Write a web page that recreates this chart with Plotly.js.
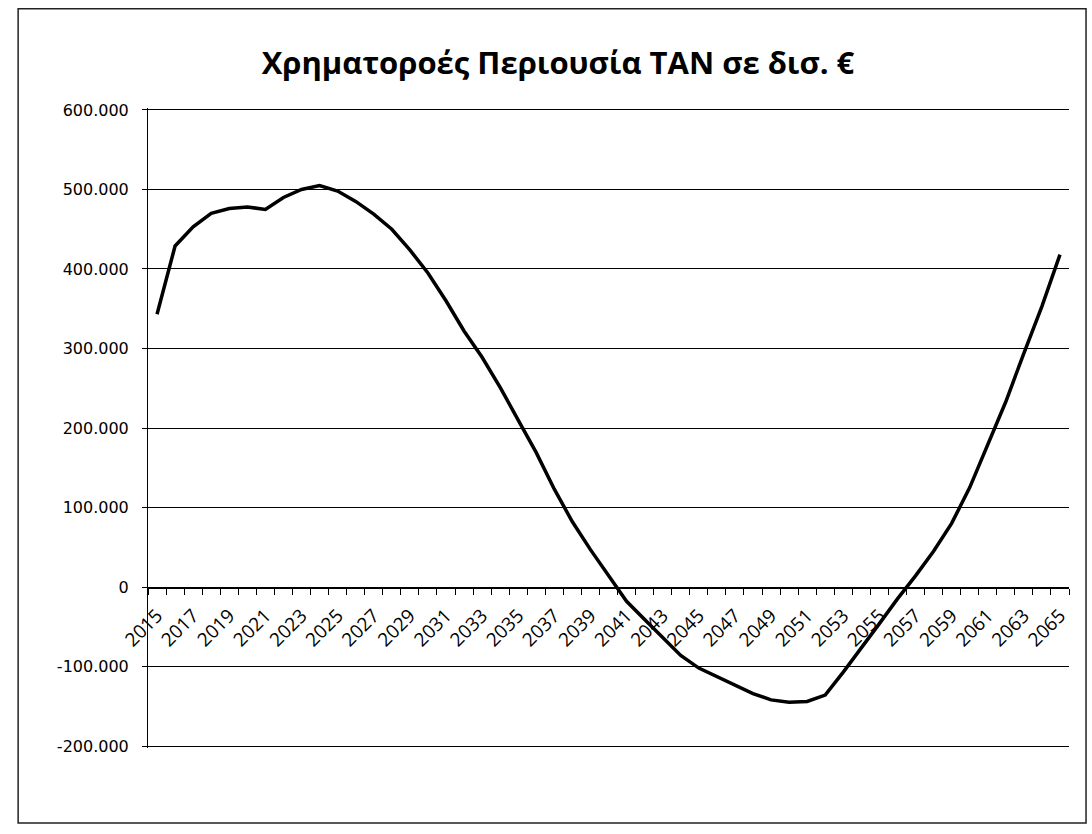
<!DOCTYPE html>
<html>
<head>
<meta charset="utf-8">
<script src="https://cdn.plot.ly/plotly-3.0.1.min.js"></script>
<style>
  body { margin: 0; background: #fff; }
  #chart { width: 1092px; height: 834px; }
</style>
</head>
<body>
<div id="chart"></div>
<script>
var years = [2015, 2016, 2017, 2018, 2019, 2020, 2021, 2022, 2023, 2024,
  2025, 2026, 2027, 2028, 2029, 2030, 2031, 2032, 2033, 2034,
  2035, 2036, 2037, 2038, 2039, 2040, 2041, 2042, 2043, 2044,
  2045, 2046, 2047, 2048, 2049, 2050, 2051, 2052, 2053, 2054,
  2055, 2056, 2057, 2058, 2059, 2060, 2061, 2062, 2063, 2064, 2065];

// assets flow
var assets = [343000, 429000, 453000, 470000, 476000, 478000, 475000, 490000, 500000, 505000,
  498000, 485000, 469000, 450000, 424000, 395000, 360000, 322000, 289000, 251000,
  210000, 169000, 123000, 82000, 47000, 15000, -18000, -41000, -63000, -86000,
  -102000, -113000, -124000, -134000, -142000, -145000, -144000, -136000, -107000, -77000,
  -46000, -15000, 14000, 45000, 80000, 125000, 180000, 233000, 294000, 353000, 418000];

var yTicks = [-200000, -100000, 0, 100000, 200000, 300000, 400000, 500000, 600000];
var yLabels = ['-200.000', '-100.000', '0', '100.000', '200.000', '300.000', '400.000', '500.000', '600.000'];

var trace = {
  x: years,
  y: assets,
  type: 'scatter',
  mode: 'lines',
  line: { color: 'black', width: 3.5 },
  hovertemplate: '%{x}: %{y:,}<extra></extra>'
};

var layout = {
  width: 1092,
  height: 834,
  separators: ',.',
  showlegend: false,
  paper_bgcolor: 'white',
  plot_bgcolor: 'white',
  margin: { l: 148, r: 23, t: 108, b: 86 },
  title: {
    text: '<b>Χρηματοροές Περιουσία ΤΑΝ σε δισ. €</b>',
    font: { family: 'Open Sans', size: 31, color: 'black' },
    xref: 'container',
    x: 0.511,
    xanchor: 'center',
    yref: 'container',
    y: 0.924,
    yanchor: 'middle'
  },
  xaxis: {
    range: [2014.5, 2065.5],
    tickmode: 'linear',
    tick0: 2015,
    dtick: 2,
    ticks: 'outside',
    ticklen: 0,
    tickangle: -45,
    ticklabelstandoff: 8,
    tickfont: { family: 'Open Sans', size: 19, color: 'black' },
    showline: true,
    linecolor: 'black',
    linewidth: 1,
    showgrid: false,
    zeroline: false,
    anchor: 'free',
    position: 0.25,
    minor: {
      tick0: 2014.5,
      dtick: 1,
      ticks: 'outside',
      ticklen: 6,
      tickwidth: 1,
      tickcolor: 'black',
      showgrid: false
    }
  },
  yaxis: {
    // a little slack so the 600.000 and -200.000 grid lines are kept
    range: [-202500, 602500],
    tickmode: 'array',
    tickvals: yTicks,
    ticktext: yLabels,
    ticks: 'outside',
    ticklen: 5,
    tickcolor: 'black',
    ticklabelstandoff: 10,
    tickfont: { family: 'DejaVu Sans', size: 16, color: 'black' },
    showline: true,
    linecolor: 'black',
    linewidth: 1,
    showgrid: true,
    gridcolor: 'black',
    gridwidth: 1,
    zeroline: false
  },
  shapes: [{
    // chart area border
    type: 'rect',
    xref: 'paper', yref: 'paper',
    x0: -0.141, x1: 1.0185,
    y0: -0.117, y1: 1.155,
    line: { color: '#222', width: 1.5 },
    fillcolor: 'rgba(0,0,0,0)'
  }]
};

Plotly.newPlot('chart', [trace], layout, { displayModeBar: false });
</script>
</body>
</html>
